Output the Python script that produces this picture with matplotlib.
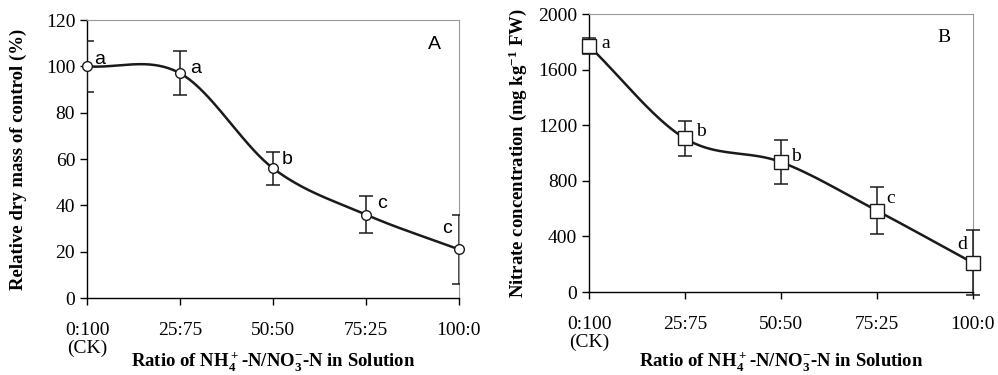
import numpy as np
import matplotlib

matplotlib.use('agg')
import matplotlib.pyplot as plt

plt.rcParams['font.family'] = 'Liberation Serif'
plt.rcParams['mathtext.default'] = 'regular'

ratios = ['0:100\n(CK)', '25:75', '50:50', '75:25', '100:0']

dry_mass = [100, 97, 56, 36, 21]
dry_mass_err = [11, 9.5, 7, 8, 15]
dry_mass_letters = ['a', 'a', 'b', 'c', 'c']

nitrate = [1770, 1105, 935, 585, 210]
nitrate_err = [60, 125, 160, 170, 235]
nitrate_letters = ['a', 'b', 'b', 'c', 'd']

XLABEL = 'Ratio of NH$_4^+$-N/NO$_3^{-}$-N in Solution'


def smooth(x, y, n=40):
    # excel-like smoothed line (catmull-rom through the points)
    x = np.asarray(x, float)
    y = np.asarray(y, float)
    px = np.concatenate([[2 * x[0] - x[1]], x, [2 * x[-1] - x[-2]]])
    py = np.concatenate([[2 * y[0] - y[1]], y, [2 * y[-1] - y[-2]]])
    xs, ys = [], []
    t = np.linspace(0, 1, n)
    for i in range(1, len(px) - 2):
        for p, out in ((px, xs), (py, ys)):
            p0, p1, p2, p3 = p[i - 1], p[i], p[i + 1], p[i + 2]
            out.extend(0.5 * ((2 * p1) + (-p0 + p2) * t
                              + (2 * p0 - 5 * p1 + 4 * p2 - p3) * t ** 2
                              + (-p0 + 3 * p1 - 3 * p2 + p3) * t ** 3))
    return xs, ys


def style_axes(ax):
    ax.spines['top'].set_color('#999999')
    ax.spines['right'].set_color('#999999')
    ax.tick_params(axis='both', labelsize=14, length=5, width=1, direction='out')
    ax.tick_params(axis='x', pad=12)
    for s in ('left', 'bottom'):
        ax.spines[s].set_linewidth(1)
    ax.set_xlim(-0.002, 4.002)
    ax.set_xticks(range(len(ratios)))
    ax.set_xticklabels(ratios, linespacing=1.1)


fig = plt.figure(figsize=(9.98, 3.75), dpi=100)

x = np.arange(len(ratios))

# panel A
ax1 = fig.add_axes([0.0872, 0.2053, 0.3728, 0.7413])
sx, sy = smooth(x, dry_mass)
ax1.plot(sx, sy, color='#1a1a1a', lw=1.8, zorder=2)
ax1.errorbar(x, dry_mass, yerr=dry_mass_err, fmt='none', ecolor='#1a1a1a',
             elinewidth=1.1, capsize=5, capthick=1.1, zorder=3)
ax1.plot(x, dry_mass, 'o', ms=7, mfc='white', mec='#1a1a1a', mew=1, zorder=4, clip_on=False)
offsets_a = [(5, -1), (7, -3), (6, 0), (8, 2), (-12, 9)]
for xi, yi, lab, off in zip(x, dry_mass, dry_mass_letters, offsets_a):
    ax1.annotate(lab, (xi, yi), xytext=off, textcoords='offset points',
                 fontsize=14, family='Liberation Sans', ha='left', va='bottom')
ax1.text(0.915, 0.896, 'A', transform=ax1.transAxes, fontsize=14, family='Liberation Sans')
ax1.set_ylim(0, 120)
ax1.set_yticks(range(0, 121, 20))
style_axes(ax1)
ax1.set_ylabel('Relative dry mass of control (%)', fontsize=13.5, fontweight='bold', va='center')
ax1.yaxis.set_label_coords(-0.185, 0.5)
ax1.set_xlabel(XLABEL, fontsize=13.5, fontweight='bold', va='center')
ax1.xaxis.set_label_coords(0.5, -0.230)

# panel B
ax2 = fig.add_axes([0.590, 0.2213, 0.385, 0.7413])
sx, sy = smooth(x, nitrate)
ax2.plot(sx, sy, color='#1a1a1a', lw=1.8, zorder=2)
ax2.errorbar(x, nitrate, yerr=nitrate_err, fmt='none', ecolor='#1a1a1a',
             elinewidth=1.1, capsize=5, capthick=1.1, zorder=3, clip_on=False)
ax2.plot(x, nitrate, 's', ms=9.5, mfc='white', mec='#1a1a1a', mew=1, zorder=4, clip_on=False)
offsets_b = [(9, -4), (8, -1), (7, -2), (7, 3), (-11, 7)]
for xi, yi, lab, off in zip(x, nitrate, nitrate_letters, offsets_b):
    ax2.annotate(lab, (xi, yi), xytext=off, textcoords='offset points',
                 fontsize=14, ha='left', va='bottom')
ax2.text(0.907, 0.90, 'B', transform=ax2.transAxes, fontsize=14)
ax2.set_ylim(0, 2000)
ax2.set_yticks(range(0, 2001, 400))
style_axes(ax2)
ax2.set_ylabel('Nitrate concentration (mg kg$^{-1}$ FW)', fontsize=13.5, fontweight='bold', va='center')
ax2.yaxis.set_label_coords(-0.185, 0.5)
ax2.set_xlabel(XLABEL, fontsize=13.5, fontweight='bold', va='center')
ax2.xaxis.set_label_coords(0.5, -0.252)

fig.savefig('out.png', dpi=100)
